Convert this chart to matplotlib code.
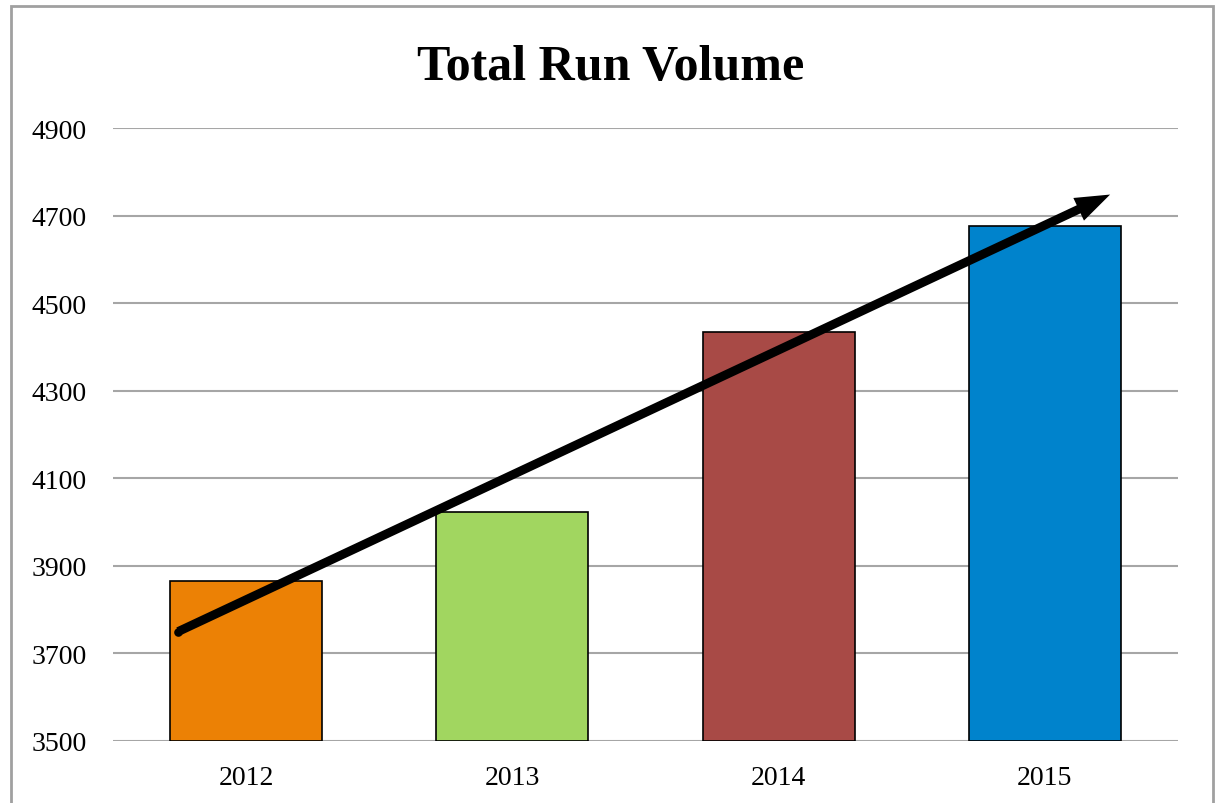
import matplotlib
matplotlib.use("Agg")
import matplotlib.pyplot as plt
from matplotlib.patches import Rectangle, FancyArrowPatch

years = ["2012", "2013", "2014", "2015"]
volumes = [3865, 4023, 4434, 4677]
colors = ["#EC8105", "#A1D660", "#A84A46", "#0083CC"]
yticks = [3500, 3700, 3900, 4100, 4300, 4500, 4700, 4900]
trend_start = (-0.255, 3750)
trend_end = (3.245, 4748)

fig = plt.figure(figsize=(12.17, 8.04), dpi=100)
W, H = 1217, 804
ax = fig.add_axes([113 / W, 1 - 742 / H, (1178 - 113) / W, (742 - 129) / H])

x = range(len(years))
ax.bar(x, [v - 3500 for v in volumes], bottom=3500, width=0.57, color=colors,
       edgecolor="black", linewidth=1.2, zorder=3)
ax.set_xlim(-0.5, 3.5)
ax.set_ylim(3500, 4900)
ax.set_yticks(yticks)
ax.set_xticks(list(x))
ax.set_xticklabels(years)
ax.grid(axis="y", color="#a6a6a6", linewidth=1.5, zorder=0)
ax.set_axisbelow(True)
for s in ax.spines.values():
    s.set_visible(False)
ax.tick_params(length=0, labelsize=20)
ax.tick_params(axis="x", pad=17)
ax.tick_params(axis="y", pad=19)
for lab in ax.get_xticklabels() + ax.get_yticklabels():
    lab.set_fontfamily("Liberation Serif")

arrow = FancyArrowPatch(trend_start, trend_end,
                        arrowstyle="simple,head_length=2.5,head_width=1.8,tail_width=0.64",
                        mutation_scale=10, color="black", linewidth=0,
                        zorder=5, shrinkA=0, shrinkB=0)
ax.add_patch(arrow)
ax.plot([trend_start[0]], [trend_start[1]], marker="o", markersize=6.2,
        color="black", markeredgewidth=0, zorder=5)

fig.text(611 / W, 1 - 68 / H, "Total Run Volume", ha="center", va="center",
         fontsize=36, fontweight="bold", family="Liberation Serif")

fig.patches.append(Rectangle((11 / W, -0.05), (1213 - 11) / W, 1.05 - 7 / H,
                             transform=fig.transFigure, fill=False,
                             edgecolor="#a0a0a0", linewidth=2))

fig.savefig("out.png", dpi=100)
